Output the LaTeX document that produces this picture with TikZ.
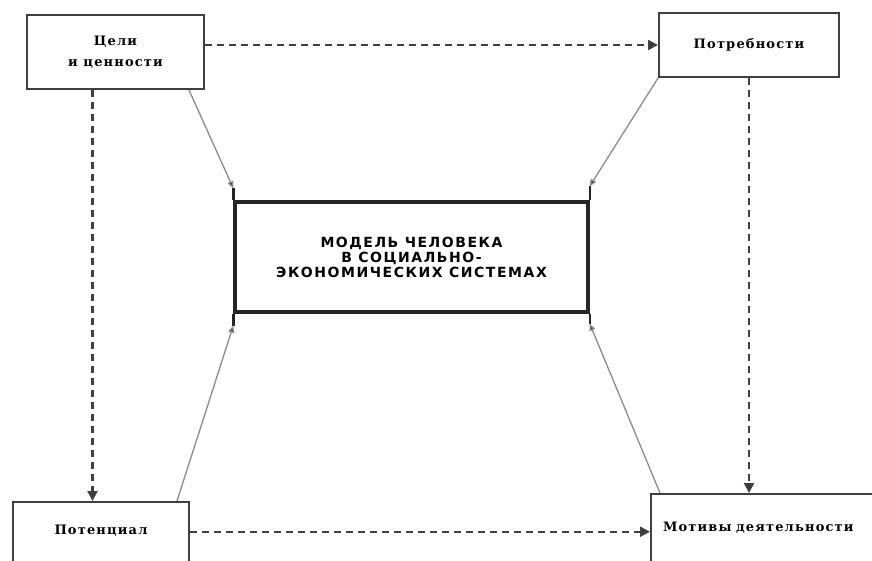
\documentclass[tikz,border=0pt]{standalone}
\usepackage{fontspec}
\setmainfont{Liberation Serif}
\newfontfamily\lblfont[LetterSpace=9]{DejaVu Serif}
\newfontfamily\capsfont[LetterSpace=11]{DejaVu Sans}
\usetikzlibrary{arrows.meta}

\begin{document}
\begin{tikzpicture}[x=1pt,y=-1pt,
    box/.style={draw=black!75,line width=2pt,inner sep=0pt,align=center,
      font=\lblfont\bfseries\fontsize{13}{21}\selectfont},
    core/.style={draw=black!85,line width=3.4pt,inner sep=0pt,align=center,
      font=\capsfont\bfseries\fontsize{14}{15}\selectfont},
    link/.style={draw=black!45,line width=1.3pt,-{Triangle[length=7pt,width=6pt,fill=black!80]}},
    flow/.style={draw=black!75,line width=2.2pt,dash pattern=on 7pt off 5pt,
      -{Triangle[length=10pt,width=10pt,fill=black!80]}}]
        \clip (0,0) rectangle (872,560);
        \fill[white] (0,0) rectangle (872,560);
        % boxes
        \node[box,minimum width=177pt,minimum height=74pt] (goals) at (115.5,52) {Цели\\и ценности};
        \node[box,minimum width=180pt,minimum height=64pt] (needs) at (749,45) {Потребности};
        \node[core,minimum width=353pt,minimum height=110pt] (model) at (411.5,257)
            {МОДЕЛЬ ЧЕЛОВЕКА\\В СОЦИАЛЬНО-\\ЭКОНОМИЧЕСКИХ СИСТЕМАХ};
        \node[box,anchor=north west,minimum width=176pt,inner ysep=14pt,
            text height=18pt,text depth=40pt] (potential) at (12,501) {Потенциал};
        \node[box,anchor=north west,text width=230pt,align=left,inner xsep=12pt,
            inner ysep=14pt,text height=23pt,text depth=40pt] (motives) at (650,493) {Мотивы деятельности};
        % dashed flows
        \draw[flow] (goals.east |- needs.west) -- (needs.west);
        \draw[flow] ([xshift=-23pt]goals.south) -- ([xshift=-23pt]goals.south |- potential.north);
        \draw[flow] (needs.south) -- (needs.south |- motives.north);
        \draw[flow] (potential.mid east) -- (potential.mid east -| motives.west);
        % corner ticks of the model
        \draw[black!85,line width=2.4pt] (model.north west) -- ++(0,-12);
        \draw[black!85,line width=2.4pt] (model.north east) -- ++(0,-14);
        \draw[black!85,line width=2.4pt] (model.south west) -- ++(0,12);
        \draw[black!85,line width=2.4pt] (model.south east) -- ++(0,10);
        % solid links
        \draw[link] ([xshift=-16pt]goals.south east) -- ([yshift=12pt]model.north west);
        \draw[link] (needs.south west) -- ([yshift=14pt]model.north east);
        \draw[link] ([xshift=-13pt]potential.north east) -- ([yshift=-12pt]model.south west);
        \draw[link] ([xshift=10pt]motives.north west) -- ([yshift=-10pt]model.south east);
\end{tikzpicture}
\end{document}
